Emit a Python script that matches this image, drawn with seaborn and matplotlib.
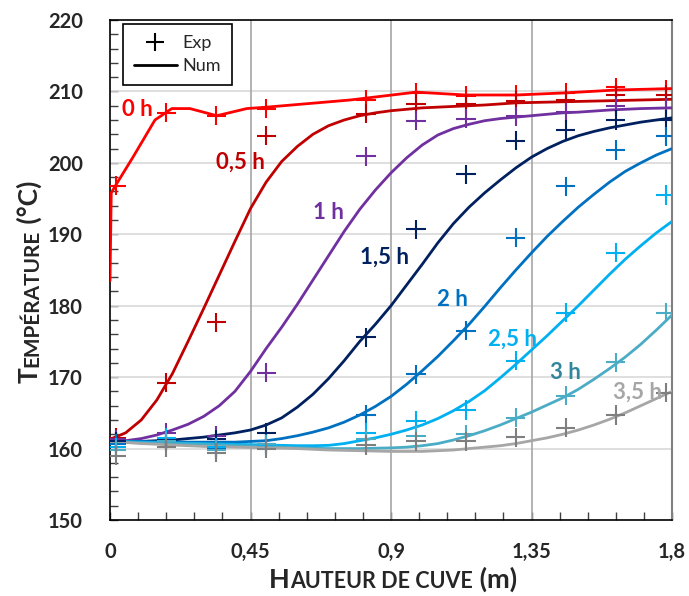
import matplotlib
matplotlib.use("Agg")
import matplotlib.pyplot as plt
import seaborn as sns
import numpy as np
import pandas as pd
from matplotlib.lines import Line2D
from matplotlib.ticker import MultipleLocator


# --- donnees ---
series = ['0 h', '0,5 h', '1 h', '1,5 h', '2 h', '2,5 h', '3 h', '3,5 h']

# points experimentaux (memes abscisses pour toutes les series)
x_exp = [0.02, 0.18, 0.34, 0.5, 0.82, 0.98, 1.14, 1.3, 1.46, 1.62, 1.78]
exp_0h = [196.8, 207.0, 206.6, 207.6, 208.8, 209.8, 209.4, 209.5, 209.8, 210.6, 210.3]
exp_05h = [161.5, 169.2, 177.7, 203.8, 206.9, 208.3, 208.2, 208.7, 208.8, 209.5, 209.5]
exp_1h = [161.3, 162.2, 161.8, 170.6, 200.9, 205.9, 206.2, 206.5, 207.1, 207.9, 207.7]
exp_15h = [161.0, 161.3, 161.3, 162.2, 175.6, 190.7, 198.4, 203.1, 204.6, 206.0, 206.0]
exp_2h = [160.7, 161.0, 160.0, 160.7, 164.7, 170.4, 176.5, 189.5, 196.7, 201.8, 203.7]
exp_25h = [160.2, 161.5, 160.2, 160.5, 162.2, 163.9, 165.4, 172.3, 179.0, 187.4, 195.5]
exp_3h = [159.8, 161.0, 159.8, 160.6, 161.3, 161.8, 162.0, 164.3, 167.4, 172.1, 179.0]
exp_35h = [159.0, 160.2, 159.4, 160.0, 160.5, 161.0, 161.0, 161.6, 162.9, 164.7, 167.8]

# courbes numeriques
x_num_0h = [0, 0.004, 0.016, 0.075, 0.144, 0.198, 0.256, 0.342, 0.438, 0.502, 0.769,
            0.98, 1.14, 1.3, 1.46, 1.62, 1.8]
num_0h = [183.5, 195.8, 196.7, 200.9, 206.0, 207.6, 207.6, 206.6, 207.6, 207.8, 208.8,
          209.9, 209.5, 209.5, 209.8, 210.2, 210.4]

x_num = [0, 0.05, 0.1, 0.15, 0.2, 0.25, 0.3, 0.35, 0.4, 0.45, 0.5, 0.55, 0.6, 0.65,
         0.7, 0.75, 0.8, 0.85, 0.9, 0.95, 1.0, 1.05, 1.1, 1.15, 1.2, 1.25, 1.3, 1.35,
         1.4, 1.45, 1.5, 1.55, 1.6, 1.65, 1.7, 1.75, 1.8]
num_05h = [161.3, 162.2, 164.0, 166.8, 170.5, 175.0, 179.6, 184.3, 189.0, 193.6, 197.3,
           200.2, 202.3, 204.0, 205.2, 206.0, 206.6, 207.0, 207.3, 207.5, 207.7, 207.8,
           207.9, 208.0, 208.1, 208.25, 208.4, 208.45, 208.5, 208.55, 208.6, 208.65,
           208.7, 208.75, 208.8, 208.85, 208.9]
num_1h = [161.0, 161.1, 161.4, 161.9, 162.6, 163.4, 164.5, 166.0, 168.0, 170.8, 174.0,
          177.0, 180.2, 183.6, 187.0, 190.4, 193.5, 196.2, 198.6, 200.7, 202.5, 203.9,
          204.8, 205.4, 205.9, 206.2, 206.4, 206.6, 206.8, 207.0, 207.1, 207.25, 207.4,
          207.5, 207.6, 207.65, 207.7]
num_15h = [161.0, 161.0, 161.0, 161.1, 161.2, 161.4, 161.6, 161.9, 162.2, 162.6, 163.3,
           164.3, 165.8, 167.6, 169.8, 172.3, 175.0, 177.4, 180.0, 182.9, 185.8, 188.8,
           191.5, 193.8, 195.8, 197.6, 199.3, 200.8, 202.0, 203.0, 203.8, 204.4, 204.9,
           205.3, 205.7, 206.0, 206.3]
num_2h = [161.0, 161.0, 161.0, 160.95, 160.9, 160.9, 160.9, 160.9, 160.9, 161.0, 161.1,
          161.4, 161.8, 162.3, 162.9, 163.7, 164.7, 165.9, 167.3, 169.0, 170.9, 172.9,
          175.1, 177.4, 179.9, 182.5, 185.0, 187.4, 189.7, 191.8, 193.8, 195.6, 197.3,
          198.8, 200.0, 201.1, 202.0]
num_25h = [161.0, 160.95, 160.9, 160.85, 160.8, 160.75, 160.7, 160.65, 160.6, 160.55,
           160.5, 160.45, 160.4, 160.4, 160.45, 160.7, 161.1, 161.5, 162.0, 162.6, 163.3,
           164.2, 165.3, 166.6, 168.1, 169.9, 171.8, 173.8, 175.8, 177.9, 180.0, 182.2,
           184.4, 186.5, 188.4, 190.2, 191.8]
num_3h = [161.0, 160.9, 160.8, 160.75, 160.7, 160.65, 160.6, 160.5, 160.4, 160.35, 160.3,
          160.2, 160.1, 160.05, 160.0, 160.0, 160.0, 160.05, 160.1, 160.2, 160.4, 160.7,
          161.2, 161.8, 162.5, 163.3, 164.2, 165.1, 166.1, 167.1, 168.3, 169.7, 171.2,
          172.8, 174.6, 176.6, 178.7]
num_35h = [161.0, 160.85, 160.7, 160.6, 160.5, 160.4, 160.3, 160.25, 160.2, 160.15, 160.1,
           160.05, 160.0, 159.9, 159.8, 159.75, 159.7, 159.65, 159.6, 159.6, 159.6, 159.7,
           159.8, 160.0, 160.2, 160.4, 160.7, 161.1, 161.5, 162.0, 162.6, 163.3, 164.1,
           165.0, 166.0, 167.0, 168.0]

# position des etiquettes (x, T)
lab_x = [0.087, 0.417, 0.70, 0.88, 1.096, 1.29, 1.46, 1.69]
lab_y = [207.4, 200.1, 193.1, 186.8, 180.8, 175.3, 170.7, 167.9]

x_ticks = [0, 0.45, 0.9, 1.35, 1.8]
x_tick_labels = ['0', '0,45', '0,9', '1,35', '1,8']

couleurs = {'0 h': '#FF0000', '0,5 h': '#C00000', '1 h': '#7030A0', '1,5 h': '#002060',
            '2 h': '#0070C0', '2,5 h': '#00B0F0', '3 h': '#4BACC6', '3,5 h': '#A6A6A6'}
couleurs_exp = dict(couleurs)
couleurs_exp['3,5 h'] = '#7F7F7F'
couleurs_lab = dict(couleurs)
couleurs_lab['3 h'] = '#31859C'


exp_vals = [exp_0h, exp_05h, exp_1h, exp_15h, exp_2h, exp_25h, exp_3h, exp_35h]
df_exp = pd.concat([pd.DataFrame({'x': x_exp, 'T': v, 'serie': s})
                    for s, v in zip(series, exp_vals)], ignore_index=True)

num_vals = [num_05h, num_1h, num_15h, num_2h, num_25h, num_3h, num_35h]
frames = [pd.DataFrame({'x': x_num_0h, 'T': num_0h, 'serie': '0 h'})]
for s, v in zip(series[1:], num_vals):
    frames.append(pd.DataFrame({'x': x_num, 'T': v, 'serie': s}))
df_num = pd.concat(frames, ignore_index=True)


sns.set_style("white")
plt.rcParams['font.family'] = ['Lato', 'DejaVu Sans']

fig = plt.figure(figsize=(6.89, 5.96), dpi=100)
ax = fig.add_axes([110/689, 1 - 520/596, 562/689, 500/596])

sns.lineplot(data=df_num, x='x', y='T', hue='serie', palette=couleurs, sort=False,
             estimator=None, legend=False, lw=2, ax=ax, zorder=3)
sns.scatterplot(data=df_exp, x='x', y='T', hue='serie', palette=couleurs_exp, marker='+',
                s=190, linewidth=1.5, legend=False, ax=ax, zorder=4)

for s, lx, ly in zip(series, lab_x, lab_y):
    ax.text(lx, ly, s, color=couleurs_lab[s], fontsize=16, fontweight='bold',
            ha='center', va='center', zorder=5)

ax.set_xlim(0, 1.8)
ax.set_ylim(150, 220)
ax.set_xticks(x_ticks)
ax.set_xticklabels(x_tick_labels)
ax.yaxis.set_major_locator(MultipleLocator(10))
ax.xaxis.set_minor_locator(MultipleLocator(0.09))
ax.yaxis.set_minor_locator(MultipleLocator(2))
ax.tick_params(which='both', direction='in', length=6, width=1, color='#404040',
               bottom=True, left=True, top=False, right=False)
ax.tick_params(axis='x', which='major', pad=16, labelsize=14.5)
ax.tick_params(axis='y', which='major', pad=19.5, labelsize=14.5)
for lab in ax.get_xticklabels() + ax.get_yticklabels():
    lab.set_fontweight('bold')

ax.grid(False)
for y in range(160, 220, 10):
    ax.axhline(y, color='#D9D9D9', lw=1.2, zorder=1)
for x in x_ticks[1:-1]:
    ax.axvline(x, color='#A6A6A6', lw=1.2, zorder=1)

for side in ['left', 'bottom', 'top']:
    ax.spines[side].set_color('black')
    ax.spines[side].set_linewidth(1.2)
ax.spines['right'].set_color('#808080')
ax.spines['right'].set_linewidth(1.5)
ax.set_xlabel('')
ax.set_ylabel('')

handles = [Line2D([], [], color='black', marker='+', ls='', markersize=13, mew=1.5),
           Line2D([], [], color='black', lw=2)]
leg = ax.legend(handles, ['Exp', 'Num'], loc='upper left', bbox_to_anchor=(0.023, 0.992),
                borderaxespad=0, fancybox=False, edgecolor='black', fontsize=13,
                handlelength=2.4, handletextpad=0.3, framealpha=1, borderpad=0.6,
                labelspacing=0.4)
leg.get_frame().set_linewidth(1.2)


# titres en petites capitales, morceau par morceau
def petites_capitales(pieces, centre, base, vertical=False):
    r = fig.canvas.get_renderer()
    textes = []
    for txt, taille in pieces:
        t = fig.text(0, 0, txt, fontsize=taille, fontweight='bold',
                     rotation=90 if vertical else 0, rotation_mode='anchor',
                     ha='left', va='baseline', transform=None)
        textes.append(t)
    longueurs = []
    for t in textes:
        bb = t.get_window_extent(r)
        longueurs.append(bb.height if vertical else bb.width)
    pos = centre - sum(longueurs) / 2
    for t, l in zip(textes, longueurs):
        if vertical:
            t.set_position((base, pos))
        else:
            t.set_position((pos, base))
        pos += l


H = fig.bbox.height
petites_capitales([('H', 19.5), ('AUTEUR DE CUVE', 15.5), (' (m)', 19.5)], 393, H - 588)
petites_capitales([('T', 19), ('EMPÉRATURE', 15), (' (°C)', 19)], H - 282, 38, vertical=True)

fig.savefig('out.png', dpi=100)
